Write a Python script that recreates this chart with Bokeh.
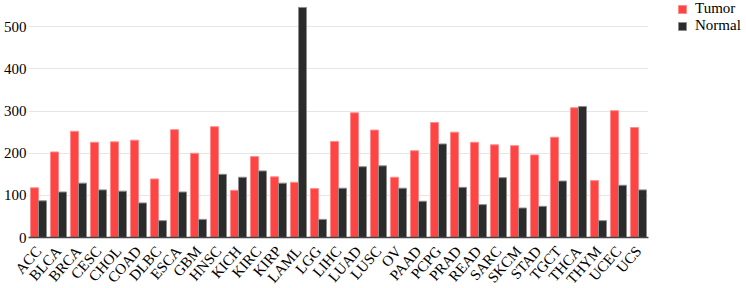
from bokeh.plotting import figure
from bokeh.models import ColumnDataSource, FactorRange, Range1d, Legend, LegendItem, FixedTicker
from bokeh.transform import dodge
from bokeh.embed import file_html
from bokeh.resources import INLINE

cancers = ["ACC", "BLCA", "BRCA", "CESC", "CHOL", "COAD", "DLBC", "ESCA", "GBM", "HNSC",
           "KICH", "KIRC", "KIRP", "LAML", "LGG", "LIHC", "LUAD", "LUSC", "OV", "PAAD",
           "PCPG", "PRAD", "READ", "SARC", "SKCM", "STAD", "TGCT", "THCA", "THYM", "UCEC", "UCS"]
tumor = [118, 203, 252, 226, 227, 231, 139, 256, 200, 263,
         112, 192, 144, 131, 116, 228, 296, 255, 143, 206,
         273, 250, 226, 220, 218, 196, 238, 308, 135, 301, 261]
normal = [87, 108, 129, 113, 110, 82, 40, 108, 43, 150,
          143, 158, 129, 546, 43, 117, 168, 170, 117, 86,
          222, 119, 78, 142, 70, 74, 134, 311, 40, 124, 113]
y_ticks = [0, 100, 200, 300, 400, 500]

FONT = "Liberation Serif"
FW, FH = 620, 233

src = ColumnDataSource(dict(cancer=cancers, tumor=tumor, normal=normal))

p = figure(x_range=FactorRange(*cancers), y_range=Range1d(0, 553),
           frame_width=FW, frame_height=FH, output_backend="svg", toolbar_location=None,
           min_border_left=27, min_border_right=97, min_border_top=4, min_border_bottom=49)
p.outline_line_color = None

r1 = p.vbar(x=dodge("cancer", -0.2, range=p.x_range), top="tumor", width=0.4, source=src,
            fill_color="#ff4444", line_color="#ff8c8c", line_width=1)
r2 = p.vbar(x=dodge("cancer", 0.2, range=p.x_range), top="normal", width=0.4, source=src,
            fill_color="#2b2b2b", line_color="#8c8c8c", line_width=1)

p.xgrid.grid_line_color = None
p.ygrid.grid_line_color = "#e6e6e6"
p.ygrid.grid_line_width = 1

p.yaxis.ticker = FixedTicker(ticks=y_ticks)
p.yaxis.axis_line_color = None
p.yaxis.major_tick_line_color = None
p.yaxis.minor_tick_line_color = None
p.yaxis.major_tick_out = 0
p.yaxis.major_label_standoff = 2

p.xaxis.axis_line_color = "#444444"
p.xaxis.axis_line_width = 1.5
p.xaxis.major_tick_line_color = None
p.xaxis.minor_tick_line_color = None
p.xaxis.major_label_orientation = 0.85
p.xaxis.major_label_standoff = 5

for ax in (p.xaxis, p.yaxis):
    ax.major_label_text_font = FONT
    ax.major_label_text_font_size = "15px"
    ax.major_label_text_color = "#000000"

legend = Legend(items=[LegendItem(label="Tumor", renderers=[r1]),
                       LegendItem(label="Normal", renderers=[r2])],
                location=(29, FH - 30), orientation="vertical",
                glyph_width=10, glyph_height=10, label_height=10, spacing=0,
                label_standoff=8, padding=0, margin=0,
                label_text_font=FONT, label_text_font_size="15px",
                label_text_color="#000000",
                border_line_color=None, background_fill_alpha=0)
p.add_layout(legend, "right")

open("out.html", "w").write(file_html(p, INLINE))
